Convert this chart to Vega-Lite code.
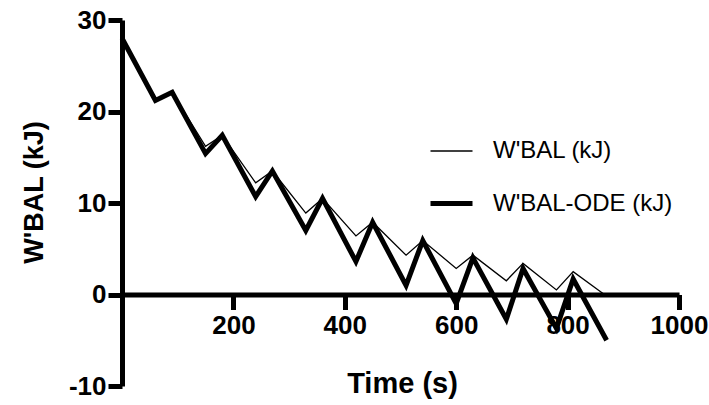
{
  "$schema": "https://vega.github.io/schema/vega-lite/v6.json",
  "width": 557,
  "height": 366,
  "autosize": "none",
  "padding": {"left": 122, "top": 20, "right": 30, "bottom": 19},
  "background": "white",
  "config": {
    "view": {"stroke": null},
    "font": "Liberation Sans"
  },
  "data": {
    "values": [
      {"t": 0, "v": 28.0, "s": "W'BAL (kJ)"},
      {"t": 60, "v": 21.2, "s": "W'BAL (kJ)"},
      {"t": 90, "v": 22.1, "s": "W'BAL (kJ)"},
      {"t": 150, "v": 16.2, "s": "W'BAL (kJ)"},
      {"t": 180, "v": 17.4, "s": "W'BAL (kJ)"},
      {"t": 240, "v": 12.2, "s": "W'BAL (kJ)"},
      {"t": 270, "v": 13.5, "s": "W'BAL (kJ)"},
      {"t": 330, "v": 8.9, "s": "W'BAL (kJ)"},
      {"t": 360, "v": 10.5, "s": "W'BAL (kJ)"},
      {"t": 420, "v": 6.4, "s": "W'BAL (kJ)"},
      {"t": 450, "v": 7.9, "s": "W'BAL (kJ)"},
      {"t": 510, "v": 4.3, "s": "W'BAL (kJ)"},
      {"t": 540, "v": 5.9, "s": "W'BAL (kJ)"},
      {"t": 600, "v": 2.85, "s": "W'BAL (kJ)"},
      {"t": 630, "v": 4.3, "s": "W'BAL (kJ)"},
      {"t": 690, "v": 1.5, "s": "W'BAL (kJ)"},
      {"t": 720, "v": 3.4, "s": "W'BAL (kJ)"},
      {"t": 780, "v": 0.5, "s": "W'BAL (kJ)"},
      {"t": 810, "v": 2.5, "s": "W'BAL (kJ)"},
      {"t": 866, "v": 0.0, "s": "W'BAL (kJ)"},
      {"t": 0, "v": 28.0, "s": "W'BAL-ODE (kJ)"},
      {"t": 60, "v": 21.2, "s": "W'BAL-ODE (kJ)"},
      {"t": 90, "v": 22.1, "s": "W'BAL-ODE (kJ)"},
      {"t": 150, "v": 15.4, "s": "W'BAL-ODE (kJ)"},
      {"t": 180, "v": 17.4, "s": "W'BAL-ODE (kJ)"},
      {"t": 240, "v": 10.7, "s": "W'BAL-ODE (kJ)"},
      {"t": 270, "v": 13.5, "s": "W'BAL-ODE (kJ)"},
      {"t": 330, "v": 7.0, "s": "W'BAL-ODE (kJ)"},
      {"t": 360, "v": 10.5, "s": "W'BAL-ODE (kJ)"},
      {"t": 420, "v": 3.6, "s": "W'BAL-ODE (kJ)"},
      {"t": 450, "v": 7.9, "s": "W'BAL-ODE (kJ)"},
      {"t": 510, "v": 1.0, "s": "W'BAL-ODE (kJ)"},
      {"t": 540, "v": 5.9, "s": "W'BAL-ODE (kJ)"},
      {"t": 600, "v": -1.0, "s": "W'BAL-ODE (kJ)"},
      {"t": 630, "v": 4.0, "s": "W'BAL-ODE (kJ)"},
      {"t": 690, "v": -2.7, "s": "W'BAL-ODE (kJ)"},
      {"t": 720, "v": 2.85, "s": "W'BAL-ODE (kJ)"},
      {"t": 780, "v": -3.7, "s": "W'BAL-ODE (kJ)"},
      {"t": 810, "v": 1.7, "s": "W'BAL-ODE (kJ)"},
      {"t": 870, "v": -5.0, "s": "W'BAL-ODE (kJ)"}
    ]
  },
  "mark": {"type": "line", "color": "black", "strokeJoin": "miter", "strokeCap": "butt"},
  "encoding": {
    "x": {
      "field": "t",
      "type": "quantitative",
      "scale": {"domain": [0, 1000], "nice": false, "zero": false},
      "axis": {
        "values": [200, 400, 600, 800, 1000],
        "labelExpr": "datum.value + ''",
        "offset": -91.5,
        "grid": false,
        "domainColor": "black",
        "domainWidth": 5,
        "tickColor": "black",
        "tickWidth": 5,
        "tickSize": 15,
        "labelFont": "Liberation Sans",
        "labelFontWeight": "bold",
        "labelFontSize": 26,
        "labelColor": "black",
        "labelPadding": 3,
        "labelFlush": false,
        "labelOverlap": false,
        "title": "Time (s)",
        "titleFont": "Liberation Sans",
        "titleFontWeight": "bold",
        "titleFontSize": 29,
        "titleColor": "black",
        "titleBaseline": "alphabetic",
        "titleX": 280,
        "titleY": 98
      }
    },
    "y": {
      "field": "v",
      "type": "quantitative",
      "scale": {"domain": [-10, 30], "nice": false, "zero": false},
      "axis": {
        "values": [-10, 0, 10, 20, 30],
        "labelExpr": "datum.value + ''",
        "grid": false,
        "domainColor": "black",
        "domainWidth": 5,
        "tickColor": "black",
        "tickWidth": 5,
        "tickSize": 14,
        "labelFont": "Liberation Sans",
        "labelFontWeight": "bold",
        "labelFontSize": 26,
        "labelColor": "black",
        "labelPadding": 2,
        "labelFlush": false,
        "labelOverlap": false,
        "title": "W'BAL (kJ)",
        "titleFont": "Liberation Sans",
        "titleFontWeight": "bold",
        "titleFontSize": 27,
        "titleColor": "black",
        "titleBaseline": "alphabetic",
        "titleAngle": -90,
        "titleX": -80,
        "titleY": 172
      }
    },
    "strokeWidth": {
      "field": "s",
      "type": "nominal",
      "scale": {"domain": ["W'BAL (kJ)", "W'BAL-ODE (kJ)"], "range": [1.3, 5]},
      "legend": {
        "title": null,
        "orient": "none",
        "legendX": 306,
        "legendY": 109,
        "padding": 0,
        "symbolType": "stroke",
        "symbolStrokeColor": "black",
        "symbolSize": 1764,
        "labelFont": "Liberation Sans",
        "labelFontSize": 24,
        "labelFontWeight": "normal",
        "labelColor": "black",
        "labelOffset": 18,
        "labelLimit": 0,
        "rowPadding": 17
      }
    }
  }
}
